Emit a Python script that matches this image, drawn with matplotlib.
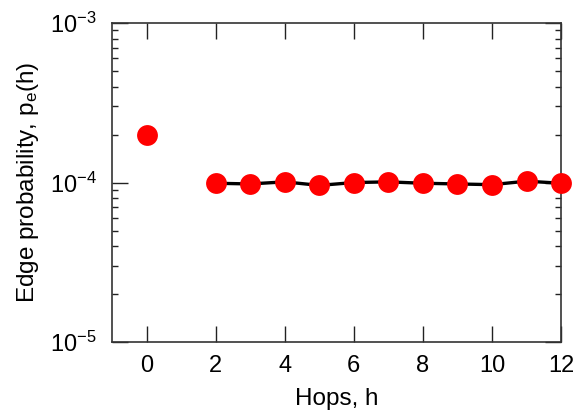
import math
import matplotlib
matplotlib.use("Agg")
import matplotlib.pyplot as plt
from matplotlib.ticker import LogLocator, FixedLocator, FuncFormatter, NullFormatter

plt.rcParams['font.family'] = ['Liberation Sans', 'DejaVu Sans']
plt.rcParams['mathtext.fontset'] = 'custom'
plt.rcParams['mathtext.rm'] = 'Liberation Sans'
plt.rcParams['mathtext.it'] = 'Liberation Sans'

# Edge probability by hop count
hop_zero = [0]
prob_zero = [2.0e-4]
hops = [2, 3, 4, 5, 6, 7, 8, 9, 10, 11, 12]
prob = [0.99e-4, 0.98e-4, 1.01e-4, 0.96e-4, 1.00e-4, 1.01e-4,
        0.99e-4, 0.98e-4, 0.97e-4, 1.02e-4, 0.99e-4]
x_ticks = [0, 2, 4, 6, 8, 10, 12]

fig = plt.figure(figsize=(5.79, 4.2), dpi=100)
ax = fig.add_axes([0.1934, 0.1857, 0.7756, 0.7593])

ax.plot(hops, prob, color='black', lw=2.4, zorder=2)
ax.plot(hops, prob, 'o', color='#ff0000', ms=15, mec='none', zorder=3, clip_on=False)
ax.plot(hop_zero, prob_zero, 'o', color='#ff0000', ms=15, mec='none', zorder=3, clip_on=False)

ax.set_yscale('log')
ax.set_xlim(-1, 12)
ax.set_ylim(1e-5, 1e-3)

ax.xaxis.set_major_locator(FixedLocator(x_ticks))
ax.yaxis.set_major_locator(LogLocator(base=10, numticks=10))
ax.yaxis.set_minor_locator(LogLocator(base=10, subs=range(2, 10), numticks=10))
ax.yaxis.set_minor_formatter(NullFormatter())


def sci(v, pos):
    e = int(round(math.log10(v)))
    return r'$\mathregular{10^{%d}}$' % e


ax.yaxis.set_major_formatter(FuncFormatter(sci))

ax.tick_params(which='both', direction='in', top=True, right=True,
               labelsize=17, width=1.0, color='#222222')
ax.tick_params(which='major', length=11.5)
ax.tick_params(axis='x', which='major', pad=9)
ax.tick_params(axis='y', which='major', pad=11)
ax.tick_params(which='minor', length=4.3)
ax.tick_params(axis='x', which='minor', top=False, bottom=False)

for s in ax.spines.values():
    s.set_linewidth(1.2)
    s.set_color('#333333')

ax.set_xlabel('Hops, h', fontsize=17.5, labelpad=8)
ax.set_ylabel(r'Edge probability, p$_\mathregular{e}$(h)', fontsize=17.5, labelpad=6)

fig.savefig('out.png', dpi=100)
